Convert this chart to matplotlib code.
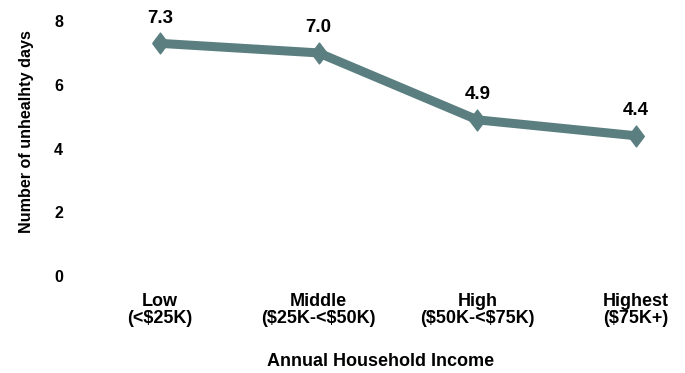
import matplotlib.pyplot as plt

plt.rcParams['font.family'] = ['Liberation Sans', 'DejaVu Sans']
plt.rcParams['font.weight'] = 'bold'

# income groups and mean unhealthy days
categories = ["Low\n(<\\$25K)", "Middle\n(\\$25K-<\\$50K)", "High\n(\\$50K-<\\$75K)", "Highest\n(\\$75K+)"]
days = [7.3, 7.0, 4.9, 4.4]
value_labels = ["7.3", "7.0", "4.9", "4.4"]
yticks = [0, 2, 4, 6, 8]

line_color = "#5B7F80"

fig = plt.figure(figsize=(6.85, 3.73), dpi=100)
ax = fig.add_axes([0.0943, 0.26, 0.9038, 0.6836])

# slightly tall diamond marker
diamond = [(-0.75, 0), (0, 1), (0.75, 0), (0, -1), (-0.75, 0)]

xs = list(range(len(categories)))
ax.plot(xs, days, color=line_color, linewidth=6.5, marker=diamond, markersize=15,
        clip_on=False)

for x, v, lab in zip(xs, days, value_labels):
    ax.annotate(lab, (x, v), xytext=(0, 15), textcoords="offset points",
                ha="center", va="baseline", fontsize=13.5, fontweight="bold")

ax.set_xlim(-0.6, 3.3)
ax.set_ylim(0, 8)
ax.set_xticks(xs)
ax.set_xticklabels(categories, fontsize=13, fontweight="bold", linespacing=1.0)
ax.set_yticks(yticks)
ax.set_yticklabels([str(t) for t in yticks], fontsize=11.5, fontweight="bold")
ax.tick_params(axis="both", length=0)
ax.tick_params(axis="x", pad=12)
ax.tick_params(axis="y", pad=1)

for s in ax.spines.values():
    s.set_visible(False)

fig.text(0.556, 0.032, "Annual Household Income", ha="center", va="center",
         fontsize=13, fontweight="bold")
fig.text(0.038, 0.646, "Number of unhealhty days", ha="center", va="center",
         rotation=90, fontsize=11.6, fontweight="bold")

fig.savefig("out.png", dpi=100)
